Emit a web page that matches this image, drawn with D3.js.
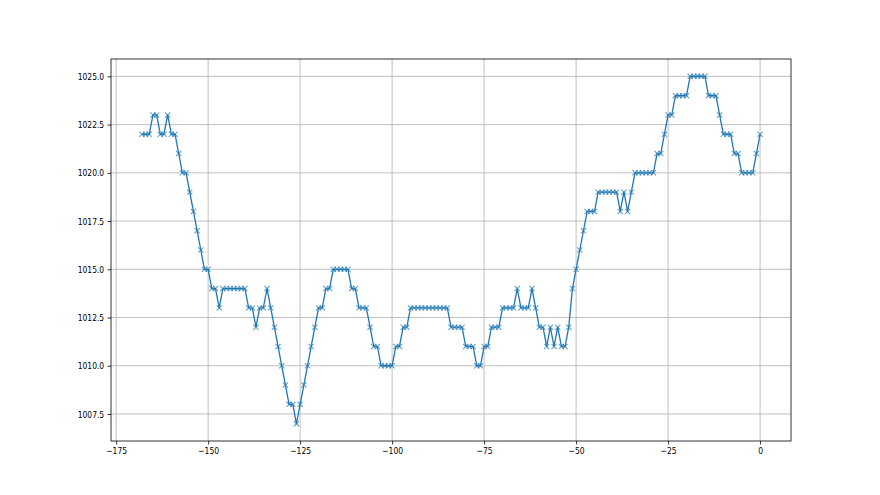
<!DOCTYPE html>
<html>
<head>
<meta charset="utf-8">
<script src="https://cdn.jsdelivr.net/npm/d3@7"></script>
<style>
  body { margin: 0; background: #fff; }
  svg { display: block; }
</style>
</head>
<body>
<svg id="chart"></svg>
<script>
// hours before now, one reading per hour
var hours = [
  -168, -167, -166, -165, -164, -163, -162, -161, -160, -159, -158, -157, -156, -155, -154, -153, -152, -151, -150, -149,
  -148, -147, -146, -145, -144, -143, -142, -141, -140, -139, -138, -137, -136, -135, -134, -133, -132, -131, -130, -129,
  -128, -127, -126, -125, -124, -123, -122, -121, -120, -119, -118, -117, -116, -115, -114, -113, -112, -111, -110, -109,
  -108, -107, -106, -105, -104, -103, -102, -101, -100, -99, -98, -97, -96, -95, -94, -93, -92, -91, -90, -89,
  -88, -87, -86, -85, -84, -83, -82, -81, -80, -79, -78, -77, -76, -75, -74, -73, -72, -71, -70, -69,
  -68, -67, -66, -65, -64, -63, -62, -61, -60, -59, -58, -57, -56, -55, -54, -53, -52, -51, -50, -49,
  -48, -47, -46, -45, -44, -43, -42, -41, -40, -39, -38, -37, -36, -35, -34, -33, -32, -31, -30, -29,
  -28, -27, -26, -25, -24, -23, -22, -21, -20, -19, -18, -17, -16, -15, -14, -13, -12, -11, -10, -9,
  -8, -7, -6, -5, -4, -3, -2, -1, 0
];

// pressure readings (hPa)
var pressure = [
  1022, 1022, 1022, 1023, 1023, 1022, 1022, 1023, 1022, 1022, 1021, 1020, 1020, 1019, 1018, 1017, 1016, 1015, 1015, 1014,
  1014, 1013, 1014, 1014, 1014, 1014, 1014, 1014, 1014, 1013, 1013, 1012, 1013, 1013, 1014, 1013, 1012, 1011, 1010, 1009,
  1008, 1008, 1007, 1008, 1009, 1010, 1011, 1012, 1013, 1013, 1014, 1014, 1015, 1015, 1015, 1015, 1015, 1014, 1014, 1013,
  1013, 1013, 1012, 1011, 1011, 1010, 1010, 1010, 1010, 1011, 1011, 1012, 1012, 1013, 1013, 1013, 1013, 1013, 1013, 1013,
  1013, 1013, 1013, 1013, 1012, 1012, 1012, 1012, 1011, 1011, 1011, 1010, 1010, 1011, 1011, 1012, 1012, 1012, 1013, 1013,
  1013, 1013, 1014, 1013, 1013, 1013, 1014, 1013, 1012, 1012, 1011, 1012, 1011, 1012, 1011, 1011, 1012, 1014, 1015, 1016,
  1017, 1018, 1018, 1018, 1019, 1019, 1019, 1019, 1019, 1019, 1018, 1019, 1018, 1019, 1020, 1020, 1020, 1020, 1020, 1020,
  1021, 1021, 1022, 1023, 1023, 1024, 1024, 1024, 1024, 1025, 1025, 1025, 1025, 1025, 1024, 1024, 1024, 1023, 1022, 1022,
  1022, 1021, 1021, 1020, 1020, 1020, 1020, 1021, 1022
];

var xTicks = [-175, -150, -125, -100, -75, -50, -25, 0];
var yTicks = [1007.5, 1010.0, 1012.5, 1015.0, 1017.5, 1020.0, 1022.5, 1025.0];

var width = 880;
var height = 495;
var margin = {left: 111, right: 89, top: 59, bottom: 54};

var blue = "#1f77b4";
var gridColor = "#b0b0b0";

var data = hours.map(function(h, i) {
    return {x: h, y: pressure[i]};
});

var svg = d3.select("#chart")
    .attr("width", width)
    .attr("height", height);

// matplotlib style 5% margins around the data
var xPad = (d3.max(hours) - d3.min(hours)) * 0.05;
var yPad = (d3.max(pressure) - d3.min(pressure)) * 0.05;

var x = d3.scaleLinear()
    .domain([d3.min(hours) - xPad, d3.max(hours) + xPad])
    .range([margin.left, width - margin.right]);

var y = d3.scaleLinear()
    .domain([d3.min(pressure) - yPad, d3.max(pressure) + yPad])
    .range([height - margin.bottom, margin.top]);

// grid
svg.append("g")
    .selectAll("line")
    .data(xTicks)
    .enter()
    .append("line")
        .attr("x1", function(d) { return x(d); })
        .attr("x2", function(d) { return x(d); })
        .attr("y1", margin.top)
        .attr("y2", height - margin.bottom)
        .attr("stroke", gridColor)
        .attr("stroke-width", 0.8);

svg.append("g")
    .selectAll("line")
    .data(yTicks)
    .enter()
    .append("line")
        .attr("x1", margin.left)
        .attr("x2", width - margin.right)
        .attr("y1", function(d) { return y(d); })
        .attr("y2", function(d) { return y(d); })
        .attr("stroke", gridColor)
        .attr("stroke-width", 0.8);

// the line
var line = d3.line()
    .x(function(d) { return x(d.x); })
    .y(function(d) { return y(d.y); });

svg.append("path")
    .datum(data)
    .attr("d", line)
    .attr("fill", "none")
    .attr("stroke", blue)
    .attr("stroke-width", 1.3)
    .attr("stroke-linejoin", "round");

// x markers
var m = 2.6;
svg.append("g")
    .selectAll("path")
    .data(data)
    .enter()
    .append("path")
        .attr("d", function(d) {
            var cx = x(d.x), cy = y(d.y);
            return "M" + (cx - m) + "," + (cy - m) + "L" + (cx + m) + "," + (cy + m) +
                   "M" + (cx - m) + "," + (cy + m) + "L" + (cx + m) + "," + (cy - m);
        })
        .attr("stroke", blue)
        .attr("stroke-width", 1.1)
        .attr("stroke-opacity", 0.7)
        .attr("fill", "none");

// axes
var xAxis = d3.axisBottom(x)
    .tickValues(xTicks)
    .tickSize(3.5)
    .tickPadding(3)
    .tickSizeOuter(0);

var yAxis = d3.axisLeft(y)
    .tickValues(yTicks)
    .tickFormat(d3.format(".1f"))
    .tickSize(3.5)
    .tickPadding(3)
    .tickSizeOuter(0);

var gx = svg.append("g")
    .attr("transform", "translate(0," + (height - margin.bottom) + ")")
    .call(xAxis);

var gy = svg.append("g")
    .attr("transform", "translate(" + margin.left + ",0)")
    .call(yAxis);

[gx, gy].forEach(function(g) {
    g.select(".domain").remove();
    g.selectAll(".tick line").attr("stroke", "#000").attr("stroke-width", 0.8);
    g.selectAll(".tick text")
        .attr("fill", "#000")
        .style("font-family", "'DejaVu Sans', sans-serif")
        .style("font-size", "9.5px");
});

// squeeze labels a little, the picture is narrow
gx.selectAll(".tick text").attr("transform", "scale(0.8,1)");
gy.selectAll(".tick text").attr("transform", "scale(0.8,1)").attr("x", -8.5);

// frame
svg.append("rect")
    .attr("x", margin.left)
    .attr("y", margin.top)
    .attr("width", width - margin.left - margin.right)
    .attr("height", height - margin.top - margin.bottom)
    .attr("fill", "none")
    .attr("stroke", "#000")
    .attr("stroke-width", 0.8);
</script>
</body>
</html>
